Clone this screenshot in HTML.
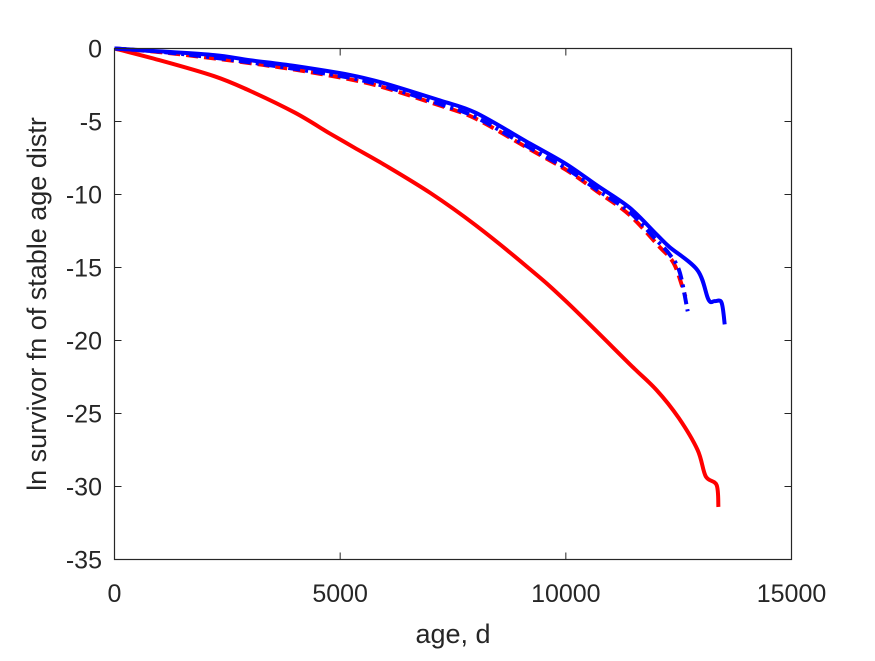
<!DOCTYPE html>
<html><head><meta charset="utf-8"><style>
body{margin:0;background:#fff;}
svg text{font-family:"Liberation Sans",sans-serif;fill:#262626;}
</style></head><body>
<svg id="chart" width="875" height="656" xmlns="http://www.w3.org/2000/svg">
<rect width="875" height="656" fill="#fff"/>
<g id="marks"></g>
<rect x="114.5" y="48.5" width="677" height="511" fill="none" stroke="#262626" stroke-width="1.2"/>
<g id="axes"></g>
<text x="453" y="643" font-size="27" text-anchor="middle">age, d</text>
<text transform="translate(46,304) rotate(-90)" font-size="27" text-anchor="middle">ln survivor fn of stable age distr</text>
</svg>
<script>
const xTicks=[0,5000,10000,15000];
const yTicks=[0,-5,-10,-15,-20,-25,-30,-35];
const redSolidX=[0,1000,2210,3000,4000,4760,5320,6000,7000,8000,9200,10000,11410,12010,12500,12920,13100,13340,13380];
const redSolidY=[0,-0.8,-1.9,-2.9,-4.4,-5.8,-6.8,-8.0,-9.9,-12.1,-15.1,-17.3,-21.6,-23.4,-25.3,-27.5,-29.3,-29.9,-31.4];
const blueSolidX=[0,1000,2210,3000,4000,5200,6000,7200,8000,9200,10000,10700,11410,12000,12300,12920,13160,13300,13450,13520];
const blueSolidY=[0,-0.2,-0.45,-0.8,-1.2,-1.8,-2.4,-3.55,-4.4,-6.5,-7.9,-9.4,-10.9,-12.7,-13.6,-15.2,-17.2,-17.3,-17.4,-18.9];
const redDashX=[0,1000,2000,3000,4000,5200,6000,7200,8000,9200,10000,10700,11410,12080,12300,12450,12650];
const redDashY=[0,-0.25,-0.6,-1.0,-1.45,-2.1,-2.7,-3.9,-4.8,-6.9,-8.3,-9.8,-11.4,-13.6,-14.3,-15.1,-17.0];
const blueDashX=[0,1000,2000,3000,4000,5200,6000,7200,8000,9200,10000,10700,11410,12000,12300,12520,12700];
const blueDashY=[0,-0.22,-0.55,-0.95,-1.4,-2.0,-2.6,-3.8,-4.7,-6.8,-8.2,-9.7,-11.2,-13.1,-14.1,-15.3,-18.0];
const X0=114.5,X1=791.5,Y0=48.5,Y1=559.5;
const sx=v=>X0+(v-0)/(15000)*(X1-X0);
const sy=v=>Y0+(0-v)/35*(Y1-Y0);
const NS="http://www.w3.org/2000/svg";
const marks=document.getElementById('marks'),axes=document.getElementById('axes');
function smoothPath(xs,ys){
  const P=xs.map((x,i)=>[sx(x),sy(ys[i])]);
  let d='M'+P[0][0].toFixed(1)+','+P[0][1].toFixed(1);
  for(let i=0;i<P.length-1;i++){
    const p0=P[Math.max(i-1,0)],p1=P[i],p2=P[i+1],p3=P[Math.min(i+2,P.length-1)];
    const c1=[p1[0]+(p2[0]-p0[0])/6,p1[1]+(p2[1]-p0[1])/6];
    const c2=[p2[0]-(p3[0]-p1[0])/6,p2[1]-(p3[1]-p1[1])/6];
    d+='C'+c1.map(v=>v.toFixed(1)).join(',')+' '+c2.map(v=>v.toFixed(1)).join(',')+' '+p2.map(v=>v.toFixed(1)).join(',');
  }
  return d;
}
function line(xs,ys,color,dash,name){
  const p=document.createElementNS(NS,'path');
  p.setAttribute('d',smoothPath(xs,ys));
  p.setAttribute('fill','none');p.setAttribute('stroke',color);p.setAttribute('stroke-width','4');
  p.setAttribute('stroke-linejoin','round');
  if(dash)p.setAttribute('stroke-dasharray',dash);
  
  
  marks.appendChild(p);
}
line(redSolidX,redSolidY,'#ff0000',null,'red-solid-line');
line(redDashX,redDashY,'#ff0000','12,6','red-dashed-line');
line(blueDashX,blueDashY,'#0000ff','12,5,3,5','blue-dashdot-line');
line(blueSolidX,blueSolidY,'#0000ff',null,'blue-solid-line');
xTicks.forEach(v=>{
  const x=sx(v);
  const t=document.createElementNS(NS,'path');
  t.setAttribute('d',`M${x},${Y1}v-7M${x},${Y0}v7`);t.setAttribute('stroke','#262626');
  
  
  axes.appendChild(t);
  const l=document.createElementNS(NS,'text');
  l.setAttribute('x',x);l.setAttribute('y',602);l.setAttribute('font-size','25');l.setAttribute('text-anchor','middle');
  l.textContent=v;
  
  
  axes.appendChild(l);
});
yTicks.forEach(v=>{
  const y=sy(v);
  const t=document.createElementNS(NS,'path');
  t.setAttribute('d',`M${X0},${y}h7M${X1},${y}h-7`);t.setAttribute('stroke','#262626');
  
  
  axes.appendChild(t);
  const l=document.createElementNS(NS,'text');
  l.setAttribute('x',102);l.setAttribute('y',y+9);l.setAttribute('font-size','25');l.setAttribute('text-anchor','end');
  l.textContent=v;
  
  
  axes.appendChild(l);
});
</script>
</body></html>
